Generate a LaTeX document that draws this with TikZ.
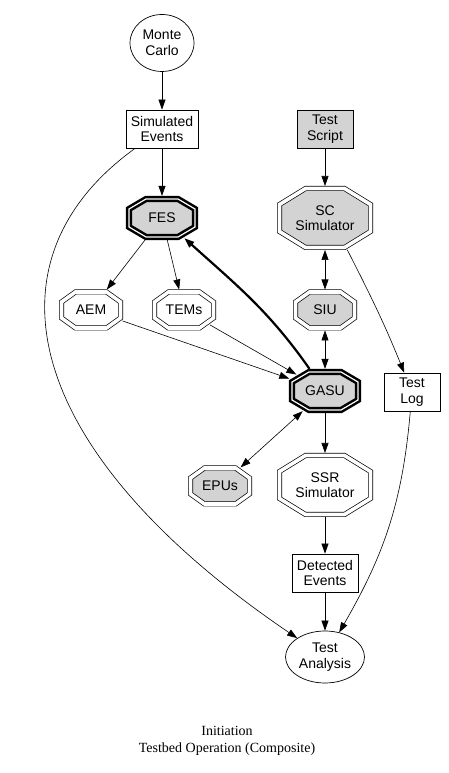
\documentclass[tikz,border=0pt]{standalone}
\usepackage{fontspec}
\setmainfont{Liberation Serif}
\newfontfamily\nodefont{Liberation Sans}
\usetikzlibrary{arrows.meta,shapes.geometric}
\definecolor{nodegray}{RGB}{211,211,211}

% octagon node shape with separate horizontal and vertical cuts
\makeatletter
\newdimen\octL \newdimen\octR \newdimen\octB \newdimen\octT
\newdimen\octLi \newdimen\octRi \newdimen\octBi \newdimen\octTi
\pgfkeys{/pgf/octagon xcut/.initial=10pt,/pgf/octagon ycut/.initial=6pt}
\pgfdeclareshape{octagonbox}{%
  \inheritsavedanchors[from=rectangle]
  \inheritanchor[from=rectangle]{center}
  \inheritanchor[from=rectangle]{north}
  \inheritanchor[from=rectangle]{south}
  \inheritanchor[from=rectangle]{east}
  \inheritanchor[from=rectangle]{west}
  \savedmacro\octcuts{%
    \pgfmathsetlength\pgf@xa{\pgfkeysvalueof{/pgf/octagon xcut}}%
    \pgfmathsetlength\pgf@ya{\pgfkeysvalueof{/pgf/octagon ycut}}%
    \edef\octcuts{\noexpand\pgf@xc=\the\pgf@xa\relax\noexpand\pgf@yc=\the\pgf@ya\relax}%
  }
  \backgroundpath{%
    \southwest \octL=\pgf@x \octB=\pgf@y
    \northeast \octR=\pgf@x \octT=\pgf@y
    \pgfmathsetlength\pgf@xa{\pgfkeysvalueof{/pgf/outer xsep}}%
    \pgfmathsetlength\pgf@ya{\pgfkeysvalueof{/pgf/outer ysep}}%
    \advance\octL by \pgf@xa \advance\octR by -\pgf@xa
    \advance\octB by \pgf@ya \advance\octT by -\pgf@ya
    \octcuts
    \octLi=\octL \advance\octLi by \pgf@xc
    \octRi=\octR \advance\octRi by -\pgf@xc
    \octBi=\octB \advance\octBi by \pgf@yc
    \octTi=\octT \advance\octTi by -\pgf@yc
    \pgfpathmoveto{\pgfqpoint{\octLi}{\octT}}%
    \pgfpathlineto{\pgfqpoint{\octRi}{\octT}}%
    \pgfpathlineto{\pgfqpoint{\octR}{\octTi}}%
    \pgfpathlineto{\pgfqpoint{\octR}{\octBi}}%
    \pgfpathlineto{\pgfqpoint{\octRi}{\octB}}%
    \pgfpathlineto{\pgfqpoint{\octLi}{\octB}}%
    \pgfpathlineto{\pgfqpoint{\octL}{\octBi}}%
    \pgfpathlineto{\pgfqpoint{\octL}{\octTi}}%
    \pgfpathclose
  }
  \anchorborder{%
    \edef\octdx{\the\pgf@x}\edef\octdy{\the\pgf@y}%
    \southwest \octL=\pgf@x \octB=\pgf@y
    \northeast \octR=\pgf@x \octT=\pgf@y
    \octcuts
    \edef\octcx{\the\pgf@xc}\edef\octcy{\the\pgf@yc}%
    \pgfmathsetmacro\octa{(\the\octR-\the\octL)/2}%
    \pgfmathsetmacro\octb{(\the\octT-\the\octB)/2}%
    \pgfmathsetmacro\octmx{(\the\octR+\the\octL)/2}%
    \pgfmathsetmacro\octmy{(\the\octT+\the\octB)/2}%
    \pgfmathsetmacro\octlen{max(veclen(\octdx,\octdy),0.001)}%
    \pgfmathsetmacro\octux{max(abs(\octdx)/\octlen,0.01)}%
    \pgfmathsetmacro\octuy{max(abs(\octdy)/\octlen,0.01)}%
    \pgfmathsetmacro\octk{\octa*\octcy+\octb*\octcx-\octcx*\octcy}%
    \pgfmathsetmacro\octt{min(\octa/\octux,\octb/\octuy,\octk/(\octux*\octcy+\octuy*\octcx))}%
    \pgfmathsetlength\pgf@x{\octmx+\octt*\octdx/\octlen}%
    \pgfmathsetlength\pgf@y{\octmy+\octt*\octdy/\octlen}%
  }
}
\makeatother

\begin{document}
\begin{tikzpicture}[
  x=1pt,y=1pt,
  >={Triangle[length=10pt,width=7pt]},
  every node/.style={font=\nodefont\fontsize{14}{15.5}\selectfont,align=center},
  box/.style={rectangle,draw,line width=0.7pt,inner xsep=5pt,minimum width=56pt,minimum height=38pt},
  oval/.style={ellipse,draw,line width=0.7pt,inner sep=0pt},
  oct/.style={shape=octagonbox,draw,double,line width=0.7pt,double distance=3.6pt,inner sep=0pt,outer sep=2.5pt},
  smalloct/.style={oct,minimum width=59pt,minimum height=36pt,/pgf/octagon xcut=14pt,/pgf/octagon ycut=10pt},
  bigoct/.style={oct,minimum width=91pt,minimum height=59pt,/pgf/octagon xcut=26pt,/pgf/octagon ycut=16pt},
  boldoct/.style={oct,line width=2.5pt,double distance=1.2pt,outer sep=3.1pt,minimum width=66pt,minimum height=38pt,/pgf/octagon xcut=17pt,/pgf/octagon ycut=10pt},
  shaded/.style={fill=nodegray},
  link/.style={->,line width=0.6pt}
]
\useasboundingbox (0,0) rectangle (448,773);

% left column
\node[oval,minimum width=64pt,minimum height=57pt] (mc) at (162,730) {Monte\\Carlo};
\node[box] (se) at (162,644) {Simulated\\Events};
\node[boldoct,shaded] (fes) at (162,555) {FES};
\node[smalloct] (aem) at (91,463) {AEM};
\node[smalloct] (tems) at (184,463) {TEMs};
\node[smalloct,shaded] (epus) at (220,287) {EPUs};

% right column
\node[box,shaded] (ts) at (325,644) {Test\\Script};
\node[bigoct,shaded] (sc) at (325,555) {SC\\Simulator};
\node[smalloct,shaded] (siu) at (325,463) {SIU};
\node[boldoct,shaded] (gasu) at (325,382) {GASU};
\node[box] (log) at (412,381) {Test\\Log};
\node[bigoct] (ssr) at (325,288) {SSR\\Simulator};
\node[box] (de) at (325,200) {Detected\\Events};
\node[oval,minimum width=79pt,minimum height=52pt] (ta) at (325,116) {Test\\Analysis};

\node[font=\rmfamily\fontsize{14}{17}\selectfont] (caption) at (227,32) {Initiation\\Testbed Operation (Composite)};

% connectors
\draw[link] (mc) -- (se);
\draw[link] (se) -- (fes);
\draw[link] (se) .. controls (-20,513) and (20,323) .. (ta);
\draw[link] (ts) -- (sc);
\draw[link,<->] (sc) -- (siu);
\draw[link,<->] (siu) -- (gasu);
\draw[link] (sc.-55) to[out=-63,in=112] (log);
\draw[link] (fes) -- (aem);
\draw[link] (fes) -- (tems);
\draw[link] (aem) -- (gasu);
\draw[link] (tems) -- (gasu);
\draw[link,line width=2.2pt] (gasu) to[out=125,in=-42] (fes);
\draw[link,<->] (gasu) -- (epus);
\draw[link] (gasu) -- (ssr);
\draw[link] (ssr) -- (de);
\draw[link] (de) -- (ta);
\draw[link] (log) to[out=-95,in=60] (ta);

\end{tikzpicture}
\end{document}
